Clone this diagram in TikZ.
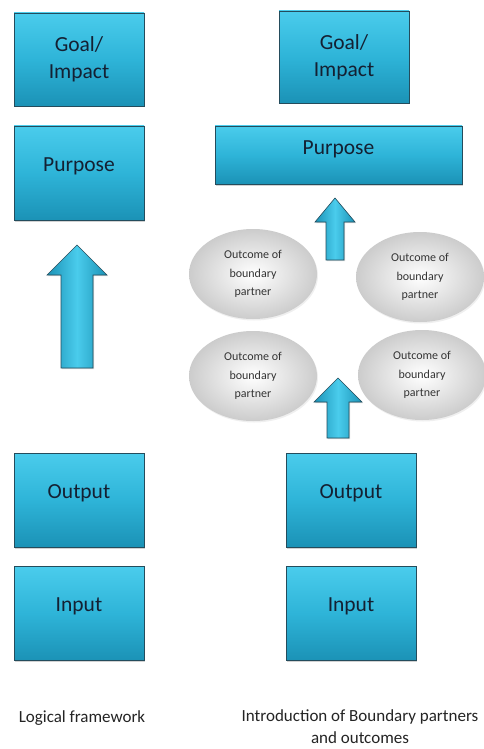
\documentclass[tikz,border=0pt]{standalone}
\usepackage{fontspec}
\setmainfont{Carlito}
\usetikzlibrary{shapes.geometric, calc, shadows}

\definecolor{boxtop}{RGB}{74,204,236}
\definecolor{boxmid}{RGB}{46,180,216}
\definecolor{boxbottom}{RGB}{27,146,182}
\definecolor{boxedge}{RGB}{36,76,92}
\definecolor{boxtext}{RGB}{20,32,50}
\definecolor{ellgray}{RGB}{204,204,204}
\definecolor{elltext}{RGB}{52,52,52}
\definecolor{captext}{RGB}{36,36,36}

\tikzset{
  block/.style={rectangle, draw=boxedge, line width=0.8pt, top color=boxtop, bottom color=boxbottom, middle color=boxmid,
    minimum width=130pt, text=boxtext, font=\fontsize{21.5}{27}\selectfont, align=center,
    drop shadow={opacity=0.35, shadow xshift=1.2pt, shadow yshift=-1.5pt}},
  tallblock/.style={block, inner ysep=0pt, text height=45pt, text depth=49pt},
  outcome/.style={ellipse, minimum width=128pt, minimum height=90pt, inner color=white, outer color=ellgray,
    text=elltext, font=\fontsize{12}{18.5}\selectfont, align=center,
    drop shadow={opacity=0.12, shadow xshift=1pt, shadow yshift=-1.5pt}},
  arrowbody/.style={draw=boxedge, line width=0.6pt, left color=boxbottom, right color=boxbottom, middle color=boxtop,
    drop shadow={opacity=0.3, shadow xshift=1pt, shadow yshift=-1.2pt}},
  caption/.style={text=captext, font=\fontsize{17}{22}\selectfont, align=center}
}

% tail, tip, half shaft, half head, head length
\newcommand{\blockarrow}[5]{%
  \draw[arrowbody] ($(#1)+(-#3,0)$) -- ($(#2)+(-#3,#5)$) -- ($(#2)+(-#4,#5)$) -- (#2)
    -- ($(#2)+(#4,#5)$) -- ($(#2)+(#3,#5)$) -- ($(#1)+(#3,0)$) -- cycle;}

\begin{document}
\begin{tikzpicture}[x=1pt, y=-1pt]
  \useasboundingbox[fill=white] (0,0) rectangle (483,749);

  \node[block, minimum height=93pt] (lgoal) at (79,59.5) {Goal/\\Impact};
  \node[tallblock] (lpurpose) at (79,173) {Purpose};
  \node[tallblock] (loutput) at (79,500) {Output};
  \node[tallblock] (linput) at (79,613.5) {Input};

  \node[block, minimum height=92pt] (rgoal) at (344,57) {Goal/\\Impact};
  \node[block, minimum width=247pt, inner ysep=0pt, text height=28.5pt, text depth=29.5pt] (rpurpose) at (338.5,155) {Purpose};
  \node[tallblock] (routput) at (351,500) {Output};
  \node[tallblock] (rinput) at (351,613.5) {Input};

  \node[outcome] (o1) at (253,274) {Outcome of\\boundary\\partner};
  \node[outcome] (o2) at (420,277) {Outcome of\\boundary\\partner};
  \node[outcome] (o3) at (253,376) {Outcome of\\boundary\\partner};
  \node[outcome] (o4) at (422,375) {Outcome of\\boundary\\partner};

  \coordinate (bigtail) at (77,368);
  \coordinate (bigtip) at (77,245);
  \coordinate (uptail) at (335,260);
  \coordinate (uptip) at (335,198);
  \coordinate (lowtail) at (338,438);
  \coordinate (lowtip) at (338,378);
  \blockarrow{bigtail}{bigtip}{16}{30}{30}
  \blockarrow{uptail}{uptip}{9}{20}{24}
  \blockarrow{lowtail}{lowtip}{11}{24}{24}

  \node[caption] (lcap) at (82,718) {Logical framework};
  \node[caption] (rcap) at (360,727) {Introduction of Boundary partners\\and outcomes};
\end{tikzpicture}
\end{document}
